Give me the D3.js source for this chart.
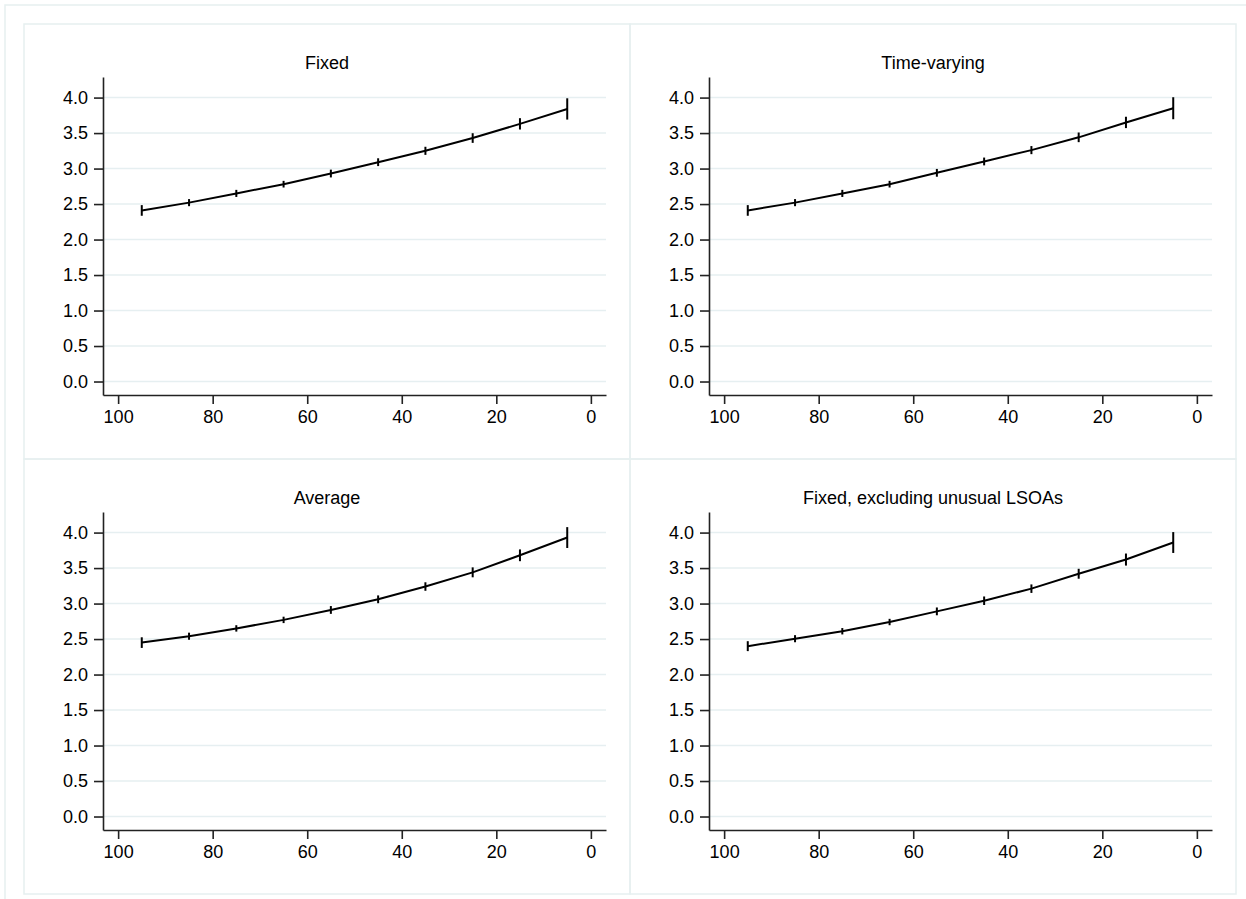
<!DOCTYPE html>
<html>
<head>
<meta charset="utf-8">
<script src="https://cdn.jsdelivr.net/npm/d3@7"></script>
<style>
  body { margin: 0; background: #fff; }
  svg { display: block; font-family: "Liberation Sans", Arial, sans-serif; }
</style>
</head>
<body>
<div id="chart"></div>
<script>
// data
const ages = [95, 85, 75, 65, 55, 45, 35, 25, 15, 5];
const titles = ['Fixed', 'Time-varying', 'Average', 'Fixed, excluding unusual LSOAs'];
const yTicks = [0, 0.5, 1, 1.5, 2, 2.5, 3, 3.5, 4];
const xTicks = [100, 80, 60, 40, 20, 0];

const fixedEst = [2.41, 2.52, 2.65, 2.78, 2.93, 3.09, 3.25, 3.43, 3.63, 3.84];
const fixedCI = [0.075, 0.05, 0.05, 0.047, 0.055, 0.055, 0.057, 0.068, 0.08, 0.15];
const timeEst = [2.41, 2.52, 2.65, 2.78, 2.94, 3.10, 3.26, 3.44, 3.65, 3.85];
const timeCI = [0.075, 0.05, 0.05, 0.047, 0.055, 0.055, 0.057, 0.068, 0.08, 0.155];
const avgEst = [2.45, 2.54, 2.65, 2.77, 2.91, 3.06, 3.24, 3.44, 3.68, 3.93];
const avgCI = [0.075, 0.05, 0.045, 0.045, 0.055, 0.055, 0.06, 0.07, 0.083, 0.147];
const exclEst = [2.40, 2.505, 2.61, 2.74, 2.89, 3.04, 3.21, 3.42, 3.62, 3.86];
const exclCI = [0.07, 0.05, 0.045, 0.045, 0.055, 0.06, 0.06, 0.07, 0.085, 0.147];

const estimates = [fixedEst, timeEst, avgEst, exclEst];
const cis = [fixedCI, timeCI, avgCI, exclCI];

const W = 1246, H = 899;
const frame = '#e6eff0';
const origin = { x: 24, y: 24 };
const panel = { w: 606, h: 435 };
const plot = { left: 79, right: 582, top: 53, bottom: 371 };

const svg = d3.select('#chart')
  .append('svg')
  .attr('width', W)
  .attr('height', H);

svg.append('rect').attr('width', W).attr('height', H).attr('fill', '#fff');

// outer frame (only top/left edges fall inside the picture)
svg.append('rect')
  .attr('x', 5).attr('y', 5)
  .attr('width', W + 20).attr('height', H + 20)
  .attr('fill', 'none')
  .attr('stroke', frame)
  .attr('stroke-width', 1.5);

const xScale = d3.scaleLinear().domain([103.2, -3.2]).range([plot.left, plot.right]);
const yScale = d3.scaleLinear().domain([-0.19, 4.29]).range([plot.bottom, plot.top]);

titles.forEach((title, i) => {
  const col = i % 2, row = Math.floor(i / 2);
  const g = svg.append('g')
    .attr('transform', `translate(${origin.x + col * panel.w}, ${origin.y + row * panel.h})`);

  g.append('rect')
    .attr('width', panel.w).attr('height', panel.h)
    .attr('fill', 'none')
    .attr('stroke', frame)
    .attr('stroke-width', 1.5);

  g.append('text')
    .attr('x', panel.w / 2)
    .attr('y', 44.5)
    .attr('text-anchor', 'middle')
    .style('font-size', '18px')
    .attr('fill', '#000')
    .text(title);

  // grid lines
  g.selectAll('.grid')
    .data(yTicks)
    .enter()
    .append('line')
    .attr('x1', plot.left)
    .attr('x2', plot.right)
    .attr('y1', d => yScale(d))
    .attr('y2', d => yScale(d))
    .attr('stroke', '#e6eff1')
    .attr('stroke-width', 1.5);

  const yAxis = d3.axisLeft(yScale)
    .tickValues(yTicks)
    .tickFormat(d3.format('.1f'))
    .tickSize(9)
    .tickSizeOuter(0)
    .tickPadding(6);
  const xAxis = d3.axisBottom(xScale)
    .tickValues(xTicks)
    .tickFormat(d3.format('d'))
    .tickSize(9)
    .tickSizeOuter(0)
    .tickPadding(6);

  g.append('g')
    .attr('transform', `translate(${plot.left}, 0)`)
    .call(yAxis);
  g.append('g')
    .attr('transform', `translate(0, ${plot.bottom})`)
    .call(xAxis);

  g.selectAll('.domain, .tick line')
    .attr('stroke', '#222')
    .attr('stroke-width', 1.6);
  g.selectAll('.tick text')
    .attr('fill', '#000')
    .style('font-size', '18px')
    .style('font-family', '"Liberation Sans", Arial, sans-serif');

  const est = estimates[i], ci = cis[i];
  const pts = ages.map((a, k) => ({ age: a, est: est[k], lo: est[k] - ci[k], hi: est[k] + ci[k] }));

  g.append('path')
    .datum(pts)
    .attr('fill', 'none')
    .attr('stroke', '#000')
    .attr('stroke-width', 2)
    .attr('d', d3.line().x(d => xScale(d.age)).y(d => yScale(d.est)));

  g.selectAll('.spike')
    .data(pts)
    .enter()
    .append('line')
    .attr('x1', d => xScale(d.age))
    .attr('x2', d => xScale(d.age))
    .attr('y1', d => yScale(d.lo))
    .attr('y2', d => yScale(d.hi))
    .attr('stroke', '#000')
    .attr('stroke-width', 2);
});
</script>
</body>
</html>
